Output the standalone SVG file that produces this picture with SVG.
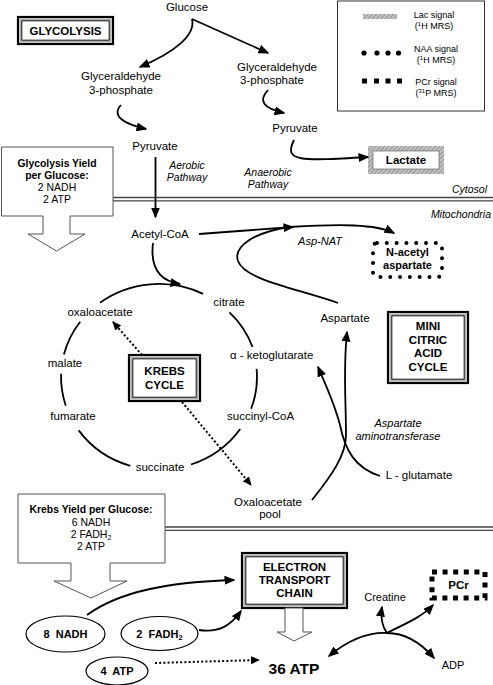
<svg xmlns="http://www.w3.org/2000/svg" width="493" height="685" viewBox="0 0 493 685">
<defs>
<style>
text{font-family:"Liberation Sans",Arial,sans-serif;fill:#000}
.t{font-size:11.5px;text-anchor:middle}
.s{font-size:10.5px;text-anchor:middle}
.b{font-size:11.5px;font-weight:bold;text-anchor:middle}
.bs{font-size:10.4px;font-weight:bold;text-anchor:middle}
.i{font-size:10.5px;font-style:italic;text-anchor:middle}
.lg{font-size:9px;text-anchor:middle}
.ln{fill:none;stroke:#000;stroke-width:1.8}
.dot{fill:none;stroke:#000;stroke-width:2;stroke-dasharray:2 2.2}
.sep{stroke:#444;stroke-width:1.3}
.blk{fill:#fff;stroke:#555;stroke-width:1}
.o{fill:#fff;stroke:#000;stroke-width:2.2}
.m{fill:none;stroke:#aaa;stroke-width:1.5}
.n{fill:none;stroke:#000;stroke-width:1}
.el{fill:#fff;stroke:#000;stroke-width:1.2}
</style>
<pattern id="hatch" width="3" height="3" patternUnits="userSpaceOnUse" patternTransform="rotate(45)">
<rect width="3" height="3" fill="#c4c4c4"/>
<line x1="0" y1="0" x2="0" y2="3" stroke="#808080" stroke-width="1.4"/>
</pattern>
<marker id="ah" markerUnits="userSpaceOnUse" markerWidth="11" markerHeight="9" refX="9.5" refY="4.5" orient="auto">
<path d="M0,0 L11,4.5 L0,9 z" fill="#000"/>
</marker>
<marker id="ahs" markerUnits="userSpaceOnUse" markerWidth="9" markerHeight="8" refX="8" refY="4" orient="auto">
<path d="M0,0 L9,4 L0,8 z" fill="#000"/>
</marker>
</defs>
<rect width="493" height="685" fill="#fff"/>

<g id="separators">
<line class="sep" x1="113" y1="197.5" x2="493" y2="197.5"/>
<line class="sep" x1="113" y1="200.8" x2="493" y2="200.8"/>
<line class="sep" x1="165" y1="527" x2="493" y2="527"/>
<line class="sep" x1="165" y1="530.3" x2="493" y2="530.3"/>
<text class="i" x="487" y="193" style="text-anchor:end">Cytosol</text>
<text class="i" x="491" y="218" style="text-anchor:end">Mitochondria</text>
</g>

<g id="legend">
<rect x="337.5" y="1" width="147" height="110" fill="#fff" stroke="#333" stroke-width="1"/>
<rect x="363" y="14" width="34" height="5" fill="url(#hatch)"/>
<text class="lg" x="434" y="18">Lac signal</text>
<text class="lg" x="434" y="29">(<tspan font-size="6" dy="-3">1</tspan><tspan dy="3">H MRS)</tspan></text>
<circle cx="364" cy="53" r="2.6"/><circle cx="377" cy="53" r="2.6"/><circle cx="388" cy="53" r="2.6"/><circle cx="398.5" cy="53" r="2.6"/>
<text class="lg" x="436" y="52">NAA signal</text>
<text class="lg" x="436" y="63">(<tspan font-size="6" dy="-3">1</tspan><tspan dy="3">H MRS)</tspan></text>
<rect x="362" y="78.5" width="5" height="5"/><rect x="374" y="78.5" width="5" height="5"/><rect x="385.5" y="78.5" width="5" height="5"/><rect x="397" y="78.5" width="5" height="5"/>
<text class="lg" x="436" y="85">PCr signal</text>
<text class="lg" x="436" y="96">(<tspan font-size="6" dy="-3">31</tspan><tspan dy="3">P MRS)</tspan></text>
</g>

<g id="glycolysis">
<rect class="o" x="18" y="17" width="95" height="27"/>
<rect class="m" x="20.2" y="19.2" width="90.6" height="22.6"/>
<rect class="n" x="21.8" y="20.8" width="87.4" height="19.4"/>
<text class="b" x="65.5" y="35">GLYCOLYSIS</text>
</g>

<g id="glucose"><text class="t" x="187" y="11">Glucose</text></g>
<g id="g3p-left"><text class="t" x="121" y="80">Glyceraldehyde</text><text class="t" x="121" y="94">3-phosphate</text></g>
<g id="g3p-right"><text class="t" x="277" y="71">Glyceraldehyde</text><text class="t" x="272" y="84">3-phosphate</text></g>
<g id="pyruvate-left"><text class="t" x="155" y="150">Pyruvate</text></g>
<g id="pyruvate-right"><text class="t" x="295" y="132">Pyruvate</text></g>
<g id="lactate">
<rect x="368" y="146" width="76" height="28" fill="url(#hatch)"/>
<rect x="373" y="151" width="66" height="18" fill="#fff" stroke="#777" stroke-width="0.8"/>
<text class="b" x="406" y="164">Lactate</text>
</g>

<g id="glycolysis-yield">
<polygon class="blk" points="1.5,147 113,147 113,216 70,216 70,234 85,234 56.5,251 28,234 43,234 43,216 1.5,216"/>
<text class="bs" x="57" y="166.5">Glycolysis Yield</text>
<text class="bs" x="57" y="178.5">per Glucose:</text>
<text class="s" x="57" y="190.5">2 NADH</text>
<text class="s" x="57" y="202.5">2 ATP</text>
</g>

<g id="labels-italic">
<text class="i" x="187" y="169">Aerobic</text><text class="i" x="187" y="181">Pathway</text>
<text class="i" x="268" y="176">Anaerobic</text><text class="i" x="268" y="188">Pathway</text>
<text class="i" x="320" y="245" style="font-size:11px">Asp-NAT</text>
<text class="i" x="398" y="427" style="font-size:11px">Aspartate</text>
<text class="i" x="398" y="440" style="font-size:11px">aminotransferase</text>
</g>

<g id="acetyl-coa"><text class="t" x="160" y="238">Acetyl-CoA</text></g>
<g id="naa">
<rect x="373" y="243" width="69" height="34" rx="4" fill="#fff" stroke="#000" stroke-width="4" stroke-dasharray="0 9.8" stroke-linecap="round"/>
<text class="b" x="407.5" y="256" style="font-size:11px">N-acetyl</text>
<text class="b" x="407.5" y="269" style="font-size:11px">aspartate</text>
</g>
<g id="aspartate"><text class="t" x="345" y="322">Aspartate</text></g>
<g id="mini-cycle">
<rect class="o" x="388" y="312" width="80" height="71"/>
<rect class="m" x="390.2" y="314.2" width="75.6" height="66.6"/>
<rect class="n" x="391.8" y="315.8" width="72.4" height="63.4"/>
<text class="b" x="428" y="330">MINI</text>
<text class="b" x="428" y="343.5">CITRIC</text>
<text class="b" x="428" y="357">ACID</text>
<text class="b" x="428" y="370.5">CYCLE</text>
</g>

<g id="krebs-labels">
<text class="t" x="229" y="306">citrate</text>
<text class="t" x="100" y="316">oxaloacetate</text>
<text class="t" x="230" y="359" style="text-anchor:start">α - ketoglutarate</text>
<text class="t" x="65" y="367">malate</text>
<text class="t" x="73" y="420">fumarate</text>
<text class="t" x="227" y="420" style="text-anchor:start">succinyl-CoA</text>
<text class="t" x="160" y="471">succinate</text>
</g>
<g id="krebs-cycle">
<rect class="o" x="129" y="355" width="71" height="46"/>
<rect class="m" x="131.2" y="357.2" width="66.6" height="41.6"/>
<rect class="n" x="132.8" y="358.8" width="63.4" height="38.4"/>
<text class="b" x="164.5" y="375">KREBS</text>
<text class="b" x="164.5" y="388.5">CYCLE</text>
</g>
<g id="glutamate"><text class="t" x="419" y="479">L - glutamate</text></g>
<g id="oxaloacetate-pool"><text class="t" x="268" y="506">Oxaloacetate</text><text class="t" x="270" y="518">pool</text></g>

<g id="krebs-yield">
<polygon class="blk" points="18,494 165,494 165,563 110,563 110,581 127,581 91,598 54,581 71,581 71,563 18,563"/>
<text class="bs" x="91" y="513">Krebs Yield per Glucose:</text>
<text class="s" x="91" y="526">6 NADH</text>
<text class="s" x="91" y="538">2 FADH<tspan font-size="7" dy="2">2</tspan></text>
<text class="s" x="91" y="550">2 ATP</text>
</g>

<g id="etc">
<rect class="o" x="242" y="553" width="105" height="55"/>
<rect class="m" x="244.2" y="555.2" width="100.6" height="50.6"/>
<rect class="n" x="245.8" y="556.8" width="97.4" height="47.4"/>
<text class="b" x="294.5" y="571">ELECTRON</text>
<text class="b" x="294.5" y="584">TRANSPORT</text>
<text class="b" x="294.5" y="597">CHAIN</text>
<polygon class="blk" points="285,608 303,608 303,632 312,632 294,641 277,632 285,632"/>
</g>

<g id="nadh"><ellipse class="el" cx="65.5" cy="634" rx="39.5" ry="18"/><text class="b" x="65.5" y="638" style="font-size:11px" xml:space="preserve">8  NADH</text></g>
<g id="fadh2"><ellipse class="el" cx="159.5" cy="633.5" rx="38.5" ry="17"/><text class="b" x="159.5" y="638" style="font-size:11px" xml:space="preserve">2  FADH<tspan font-size="7.5" dy="2">2</tspan></text></g>
<g id="atp4"><ellipse class="el" cx="117" cy="671" rx="31" ry="14"/><text class="b" x="117" y="675" style="font-size:11px" xml:space="preserve">4  ATP</text></g>
<g id="atp36"><text class="b" x="294" y="674" style="font-size:15.5px">36 ATP</text></g>
<g id="creatine"><text class="t" x="385" y="601" style="font-size:11px">Creatine</text></g>
<g id="adp"><text class="t" x="453" y="669" style="font-size:11px">ADP</text></g>
<g id="pcr">
<rect x="432" y="572" width="53" height="26" fill="#fff" stroke="#000" stroke-width="5" stroke-dasharray="5 5.6"/>
<text class="b" x="458.5" y="589">PCr</text>
</g>

<g id="connectors">
<path class="ln" d="M192 19 C196 35 175 52 140 67" marker-end="url(#ah)"/>
<path class="ln" d="M192 19 L268 53" marker-end="url(#ah)"/>
<path class="ln" d="M121 105 C111 116 124 124 146 129" marker-end="url(#ah)"/>
<path class="ln" d="M268 90 C258 101 263 108 284 113" marker-end="url(#ah)"/>
<path class="ln" d="M294 140 C283 162 300 161 368 157" marker-end="url(#ah)"/>
<path class="ln" d="M155.5 157 L155.5 217" marker-end="url(#ah)"/>
<path class="ln" d="M199 234 L293 227" marker-end="url(#ah)"/>
<path class="ln" d="M290 227 C340 224 376 224 394 233" marker-end="url(#ah)"/>
<path class="ln" d="M338 303 C295 288 245 280 238 261 C233 246 255 232 290 227"/>
<path class="ln" d="M153 243 C150 268 160 281 180 284" marker-end="url(#ah)"/>
<path class="ln" d="M100 302.7 A98 93 0 0 1 203 293.9"/>
<path class="ln" d="M229.5 312.4 A98 93 0 0 1 252.5 347"/>
<path class="ln" d="M256.6 368.9 A98 93 0 0 1 251.1 408.8"/>
<path class="ln" d="M240.2 429 A98 93 0 0 1 191 464.5"/>
<path class="ln" d="M130.3 465.9 A98 93 0 0 1 78.7 430.4"/>
<path class="ln" d="M65.8 405.7 A98 93 0 0 1 61.1 373.8"/>
<path class="ln" d="M63.9 354.5 A98 93 0 0 1 80.2 321.7"/>
<path class="dot" d="M142 355 L113 322" marker-end="url(#ahs)"/>
<path class="dot" d="M182 402 L251 485" marker-end="url(#ahs)"/>
<path class="ln" d="M312 500 C332 475 346 455 346 435 C346 400 343 370 347 332" marker-end="url(#ah)"/>
<path class="ln" d="M380 476 C355 468 345 450 340 425 C335 405 328 390 318 367" marker-end="url(#ah)"/>
<path class="ln" d="M87 615 C120 591 170 582 234 580" marker-end="url(#ah)"/>
<path class="ln" d="M199 630 C220 633 231 625 241 611" marker-end="url(#ah)"/>
<path class="dot" d="M155 663 L259 660" marker-end="url(#ahs)"/>
<path class="ln" d="M387 633 C365 632 346 642 329 656" marker-end="url(#ah)"/>
<path class="ln" d="M387 633 C405 633 421 643 434 658" marker-end="url(#ah)"/>
<path class="ln" d="M387 633 C382 626 380 619 382 607" marker-end="url(#ah)"/>
<path class="ln" d="M387 633 C402 625 421 618 433 605" marker-end="url(#ah)"/>
</g>
</svg>
